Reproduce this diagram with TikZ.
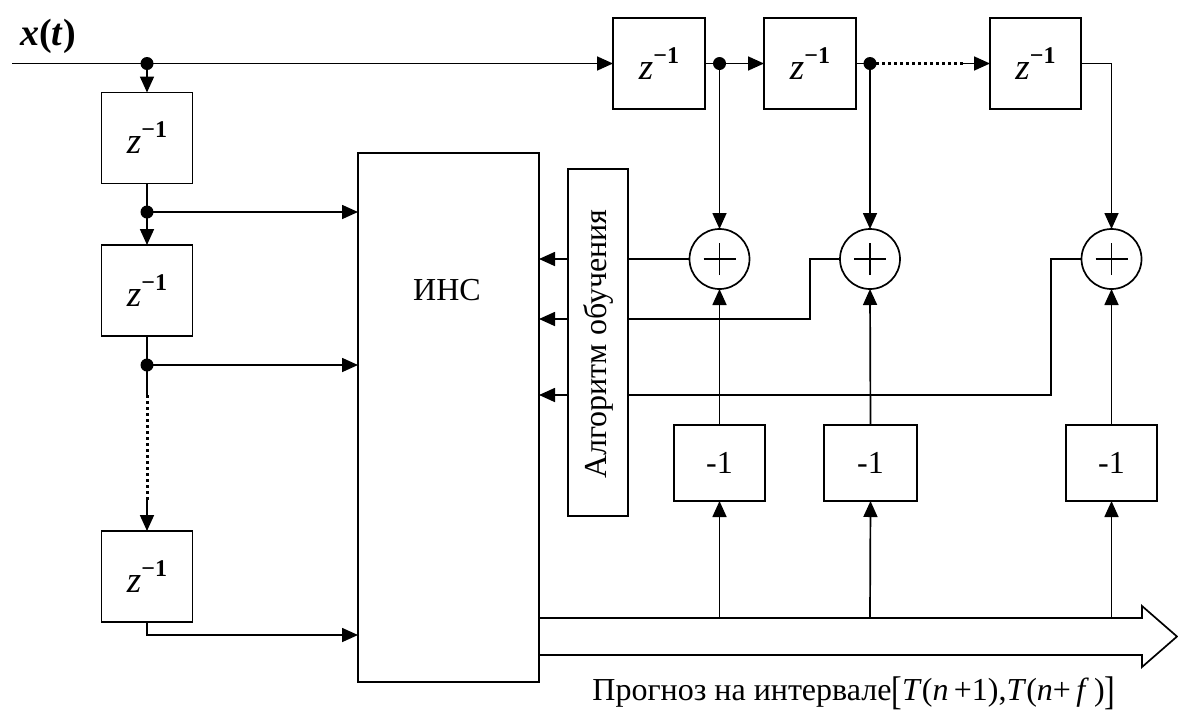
\documentclass[tikz,border=0pt]{standalone}
\usepackage{fontspec}
\setmainfont{Liberation Serif}
\usetikzlibrary{arrows.meta}
\newcommand\zinv{{\fontsize{37}{40}\selectfont\textit{z}}\raisebox{16pt}{\fontsize{24}{26}\selectfont\textbf{−1}}}
\newcommand\bigbr[1]{\raisebox{-0.12em}{\scalebox{1}[1.25]{#1}}}
\begin{document}
\begin{tikzpicture}[x=1pt,y=-1pt,line width=1.7pt,
  blk/.style={draw,line width=1.7pt,inner sep=0pt,outer sep=0pt,font=\fontsize{32}{38}\selectfont},
  zbox/.style={blk,minimum width=91pt,minimum height=91pt},
  mbox/.style={blk,minimum width=91pt,minimum height=76pt},
  sumnode/.style={draw,circle,line width=1.7pt,minimum size=60pt,inner sep=0pt,outer sep=0pt},
  arr/.style={-{Triangle[length=16pt,width=14pt]}},
  dotline/.style={line width=3pt,dash pattern=on 3pt off 3pt},
  lbl/.style={inner sep=0pt,font=\fontsize{32}{38}\selectfont}]
\useasboundingbox (0,0) rectangle (1178,713);
% nodes
\node[zbox] (zL1) at (147,138) {\zinv};
\node[zbox] (zL2) at (147,290.5) {\zinv};
\node[zbox] (zL3) at (147,576.5) {\zinv};
\node[zbox,minimum width=92pt] (zT1) at (659,63.5) {\zinv};
\node[zbox,minimum width=92pt] (zT2) at (810,63.5) {\zinv};
\node[zbox] (zT3) at (1035.5,63.5) {\zinv};
\node[blk,minimum width=181pt,minimum height=529pt] (ins) at (448.5,417.5) {};
\node[lbl] (inslbl) at (447,290) {ИНС};
\node[blk,minimum width=60pt,minimum height=347pt] (alg) at (598,342.5) {};
\node[lbl,rotate=90] (alglbl) at (598,344) {Алгоритм обучения};
\node[sumnode] (s1) at (719.5,259) {};
\node[sumnode] (s2) at (870,259) {};
\node[sumnode] (s3) at (1111.5,259) {};
\foreach \s in {s1,s2,s3}{
  \draw[line width=1.3pt] ([xshift=-16pt]\s.center) -- ([xshift=16pt]\s.center);
  \draw[line width=1.3pt] ([yshift=-16pt]\s.center) -- ([yshift=16pt]\s.center);
}
\node[mbox] (m1) at (719.5,463) {-1};
\node[mbox,minimum width=93pt] (m2) at (870.5,463) {-1};
\node[mbox] (m3) at (1111.5,463) {-1};
\node[lbl,font=\fontsize{38}{42}\selectfont\bfseries] (xt) at (48,36) {\textit{x}(\textit{t})};
\node[lbl,font=\fontsize{32}{36}\selectfont] (out) at (854,693) {Прогноз на интервале\bigbr{[}\textit{T}(\textit{n}\,+1),\textit{T}(\textit{n}+\,\textit{f}\,)\bigbr{]}};
% coordinates
\coordinate (in) at (12,63.5);
\coordinate (j0) at (147,63.5);
\coordinate (j1) at (147,212);
\coordinate (j2) at (147,365);
\coordinate (d1) at (147,395);
\coordinate (d2) at (147,500);
\coordinate (c3) at (147,635);
\coordinate (t1) at (719.5,63.5);
\coordinate (t2) at (870,63.5);
\coordinate (t2d) at (963,63.5);
\coordinate (k2a) at (810,259);
\coordinate (k2b) at (810,319);
\coordinate (k3a) at (1051,259);
\coordinate (k3b) at (1051,395);
\coordinate (b1) at (719.5,618);
\coordinate (b2) at (870,618);
\coordinate (b3) at (1111.5,618);
\coordinate (hd) at (1142,618);
\coordinate (tip) at (1177,636.5);
\coordinate (hl) at (1142,655);
% left chain
\draw[arr] (in) -- (zT1.west);
\draw[arr] (j0) -- (zL1.north);
\draw (zL1.south) -- (j1);
\draw[arr] (j1) -- (zL2.north);
\draw[arr] (j1) -- (j1 -| ins.west);
\draw (zL2.south) -- (d1);
\draw[arr] (j2) -- (j2 -| ins.west);
\draw[dotline] (d1) -- (d2);
\draw[arr] (d2) -- (zL3.north);
\draw[arr] (zL3.south) -- (c3) -- (c3 -| ins.west);
% top chain
\draw (zT1.east) -- (t1);
\draw[arr] (t1) -- (zT2.west);
\draw[arr] (t1) -- (s1.north);
\draw (zT2.east) -- (t2);
\draw[dotline] (t2) -- (t2d);
\draw[arr] (t2d) -- (zT3.west);
\draw[arr] (t2) -- (s2.north);
\draw[arr] (zT3.east) -| (s3.north);
% errors to algorithm
\draw (s1.west) -- (s1.west -| alg.east);
\draw (s2.west) -- (k2a) -- (k2b) -- (k2b -| alg.east);
\draw (s3.west) -- (k3a) -- (k3b) -- (k3b -| alg.east);
\draw[arr] (alg.west |- s1) -- (ins.east |- s1);
\draw[arr] (alg.west |- k2b) -- (ins.east |- k2b);
\draw[arr] (alg.west |- k3b) -- (ins.east |- k3b);
% -1 blocks
\draw[arr] (m1.north) -- (s1.south);
\draw[arr] (m2.north) -- (s2.south);
\draw[arr] (m3.north) -- (s3.south);
\draw[arr] (b1) -- (m1.south);
\draw[arr] (b2) -- (m2.south);
\draw[arr] (b3) -- (m3.south);
% output bus arrow
\draw[line join=miter] (ins.east |- hd) -- (hd) -- ++(0,-12) -- (tip) -- (1142,667) -- (hl) -- (ins.east |- hl);
% dots
\foreach \p in {j0,j1,j2,t1,t2} \fill (\p) circle (6.5pt);
\end{tikzpicture}
\end{document}
